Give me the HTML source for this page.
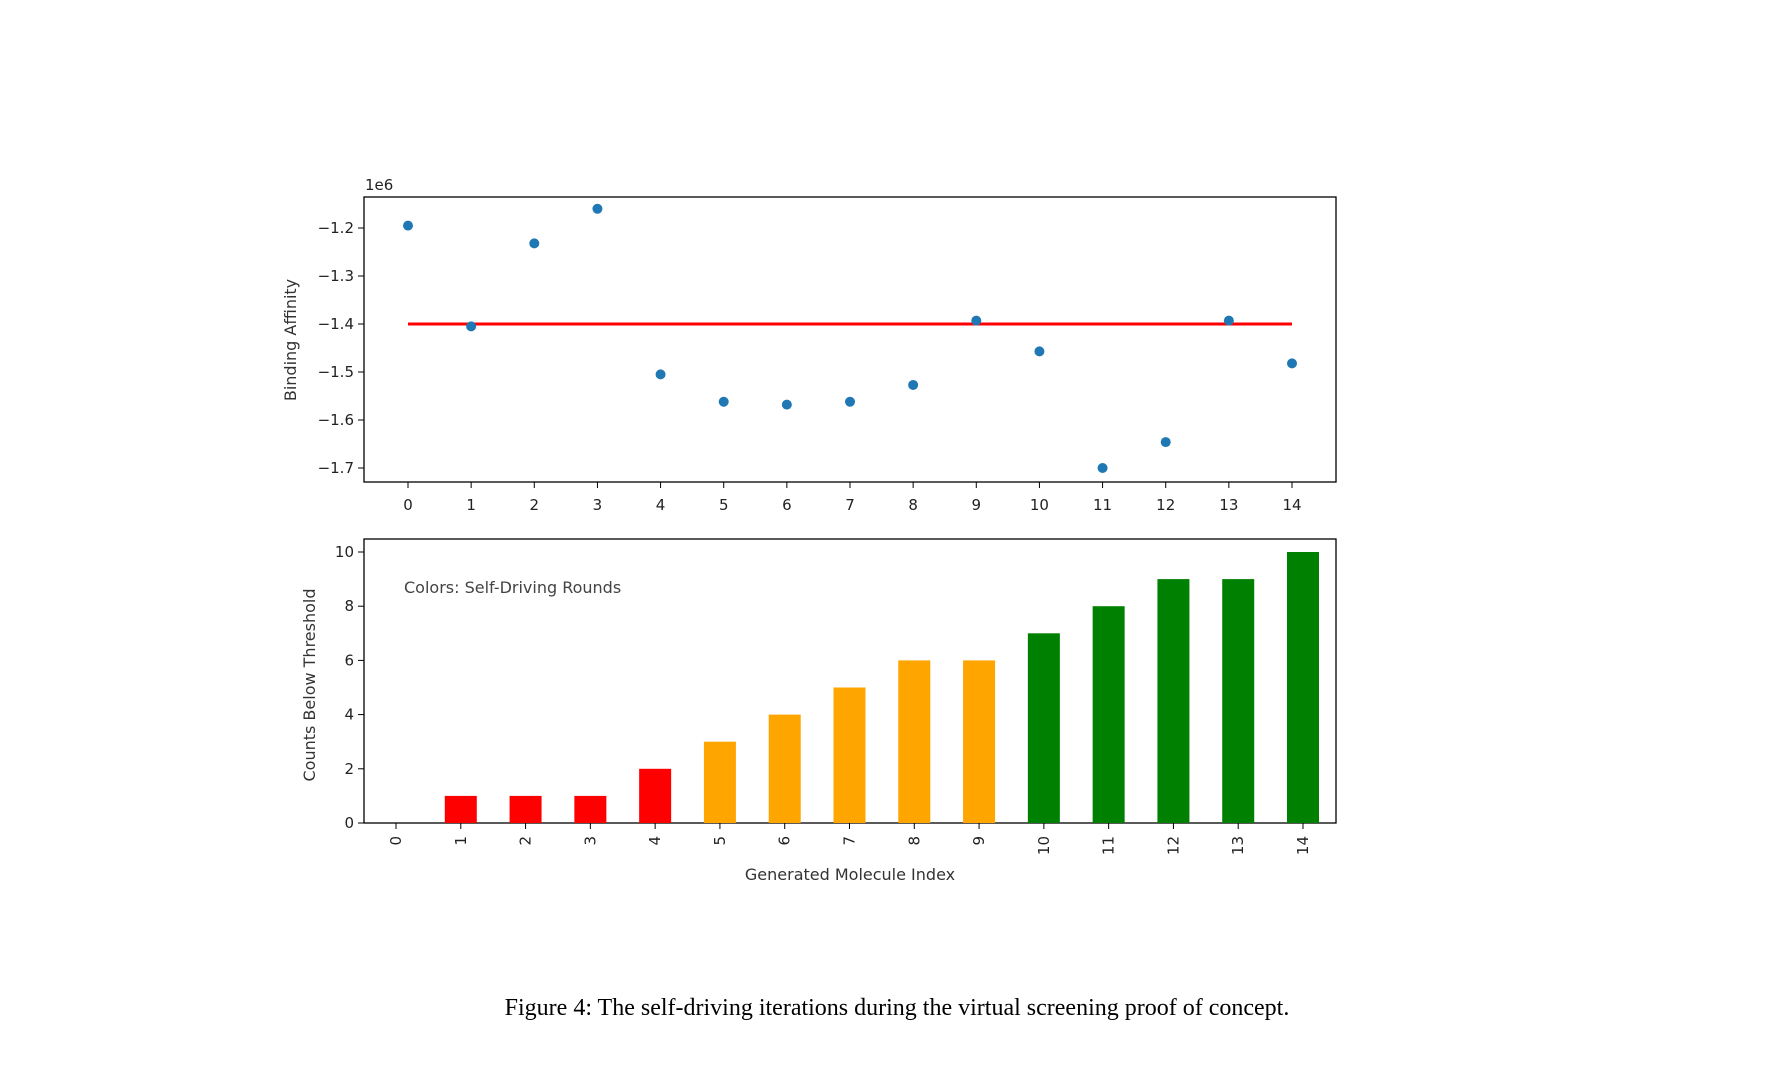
<!DOCTYPE html>
<html><head><meta charset="utf-8"><style>
body{margin:0;background:#fff;}
svg{display:block;font-family:"DejaVu Sans","Liberation Sans",sans-serif;}
</style></head><body>
<svg id="fig" width="1786" height="1067" viewBox="0 0 1786 1067">
<g id="topg"></g>
<g id="botg"></g>
<text x="897" y="1015" text-anchor="middle" font-family="Liberation Serif, serif" font-size="24" fill="#000">Figure 4: The self-driving iterations during the virtual screening proof of concept.</text>
</svg>
<script>
const indices=[0,1,2,3,4,5,6,7,8,9,10,11,12,13,14];
const affinity=[-1.195,-1.405,-1.232,-1.16,-1.505,-1.562,-1.568,-1.562,-1.527,-1.393,-1.457,-1.70,-1.646,-1.393,-1.482];
const threshold=-1.4;
const yTicksTop=[-1.2,-1.3,-1.4,-1.5,-1.6,-1.7];
const counts=[0,1,1,1,2,3,4,5,6,6,7,8,9,9,10];
const barColors=["red","red","red","red","red","#ffa500","#ffa500","#ffa500","#ffa500","#ffa500","green","green","green","green","green"];
const yTicksBot=[0,2,4,6,8,10];
const NS="http://www.w3.org/2000/svg";
function mk(p,t,a,txt){const el=document.createElementNS(NS,t);for(const k in a)el.setAttribute(k,a[k]);if(txt!==undefined)el.textContent=txt;p.appendChild(el);return el;}
const topG=document.getElementById('topg');
const tx=i=>408+i*(1292-408)/14;
const ty=v=>228+(-1.2-v)*480;
let e;
e=mk(topG,'rect',{x:364,y:197,width:972,height:285,fill:'none',stroke:'#000','stroke-width':1.3});


e=mk(topG,'text',{x:365,y:190,'font-size':15,fill:'#222'},'1e6');


yTicksTop.forEach(v=>{const y=ty(v);mk(topG,'line',{x1:358,x2:364,y1:y,y2:y,stroke:'#000'});
 e=mk(topG,'text',{x:354,y:y+5,'text-anchor':'end','font-size':15,fill:'#222'},'\u2212'+Math.abs(v).toFixed(1));
 
 });
indices.forEach(i=>{const x=tx(i);mk(topG,'line',{x1:x,x2:x,y1:482,y2:488,stroke:'#000'});
 e=mk(topG,'text',{x:x,y:510,'text-anchor':'middle','font-size':15,fill:'#222'},String(i));
 
 });
e=mk(topG,'line',{x1:tx(0),x2:tx(14),y1:ty(threshold),y2:ty(threshold),stroke:'#ff0000','stroke-width':3});


affinity.forEach((v,i)=>{e=mk(topG,'circle',{cx:tx(i),cy:ty(v),r:5,fill:'#1f77b4'});
 
 });
e=mk(topG,'text',{x:0,y:0,'font-size':16,fill:'#333','text-anchor':'middle',transform:'translate(296,340) rotate(-90)'},'Binding Affinity');


const botG=document.getElementById('botg');
const bx=i=>396+i*(1303-396)/14;
const by=v=>823-v*27.1;
e=mk(botG,'rect',{x:364,y:539,width:972,height:284,fill:'none',stroke:'#000','stroke-width':1.3});


counts.forEach((v,i)=>{const h=by(0)-by(v);e=mk(botG,'rect',{x:bx(i)-16,y:by(v),width:32,height:h,fill:barColors[i]});
 
 });
yTicksBot.forEach(v=>{const y=by(v);mk(botG,'line',{x1:358,x2:364,y1:y,y2:y,stroke:'#000'});
 e=mk(botG,'text',{x:354,y:y+5,'text-anchor':'end','font-size':15,fill:'#222'},String(v));
 
 });
indices.forEach(i=>{const x=bx(i);mk(botG,'line',{x1:x,x2:x,y1:823,y2:829,stroke:'#000'});
 e=mk(botG,'text',{x:0,y:0,'text-anchor':'end','font-size':15,fill:'#222',transform:`translate(${x+5},836) rotate(-90)`},String(i));
 
 });
e=mk(botG,'text',{x:404,y:593,'font-size':16,fill:'#444'},'Colors: Self-Driving Rounds');


e=mk(botG,'text',{x:850,y:880,'text-anchor':'middle','font-size':16,fill:'#333'},'Generated Molecule Index');


e=mk(botG,'text',{x:0,y:0,'font-size':16,fill:'#333','text-anchor':'middle',transform:'translate(315,685) rotate(-90)'},'Counts Below Threshold');


</script>
</body></html>
